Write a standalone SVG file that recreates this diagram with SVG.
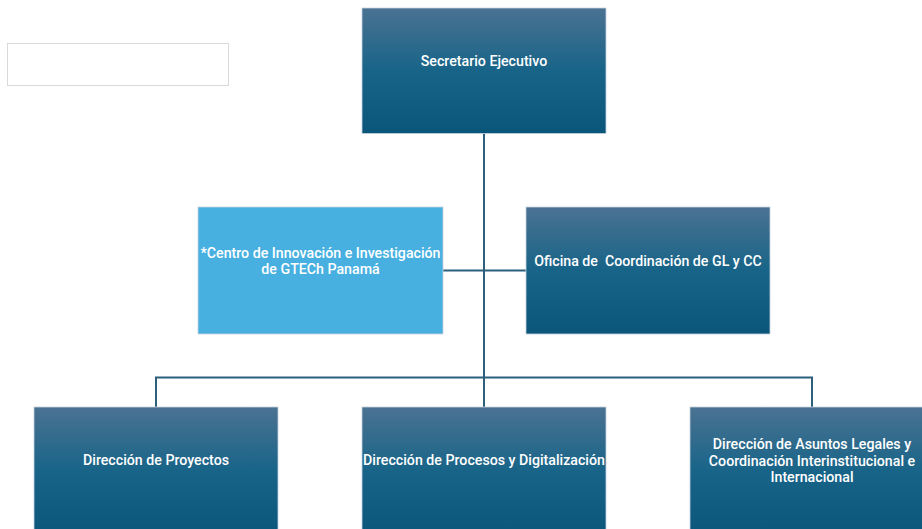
<svg xmlns="http://www.w3.org/2000/svg" width="922" height="529" viewBox="0 0 922 529">
<defs>
<linearGradient id="g" x1="0" y1="0" x2="0" y2="1">
<stop offset="0" stop-color="#4b7292"/>
<stop offset="0.5" stop-color="#176488"/>
<stop offset="1" stop-color="#0a567a"/>
</linearGradient>
<style>
.box{fill:url(#g);stroke:#c8d3dc;stroke-width:0.8}
.lb{fill:#47b0e0;stroke:#c8d3dc;stroke-width:0.8}
.t{font-family:Roboto,"Liberation Sans",sans-serif;font-size:14.2px;font-weight:500;fill:#ffffff;text-anchor:middle}
.c{fill:none;stroke:#2b5f7c;stroke-width:2}
</style>
</defs>
<rect width="922" height="529" fill="#ffffff"/>
<g id="blank">
<rect x="7.5" y="43.5" width="221" height="42" fill="#ffffff" stroke="#d9d9d9" stroke-width="1"/>
</g>
<g id="connectors">
<line class="c" x1="484" y1="133" x2="484" y2="407"/>
<line class="c" x1="443" y1="270.5" x2="526" y2="270.5"/>
<polyline class="c" points="156,407 156,377.5 812,377.5 812,407"/>
</g>
<g id="secretario">
<rect class="box" x="362" y="8" width="244" height="125.5"/>
<text class="t" x="484" y="66">Secretario Ejecutivo</text>
</g>
<g id="centro">
<rect class="lb" x="198" y="207" width="245" height="127"/>
<text class="t" x="320.5" y="258">*Centro de Innovación e Investigación</text>
<text class="t" x="320.5" y="274">de GTECh Panamá</text>
</g>
<g id="oficina">
<rect class="box" x="526" y="207" width="244" height="127"/>
<text class="t" x="648" y="266" xml:space="preserve">Oficina de  Coordinación de GL y CC</text>
</g>
<g id="proyectos">
<rect class="box" x="34" y="407" width="244" height="130"/>
<text class="t" x="156" y="465">Dirección de Proyectos</text>
</g>
<g id="procesos">
<rect class="box" x="362" y="407" width="244" height="130"/>
<text class="t" x="484" y="465">Dirección de Procesos y Digitalización</text>
</g>
<g id="legales">
<rect class="box" x="690" y="407" width="244" height="130"/>
<text class="t" x="812" y="449">Dirección de Asuntos Legales y</text>
<text class="t" x="812" y="466">Coordinación Interinstitucional e</text>
<text class="t" x="812" y="482">Internacional</text>
</g>
</svg>
